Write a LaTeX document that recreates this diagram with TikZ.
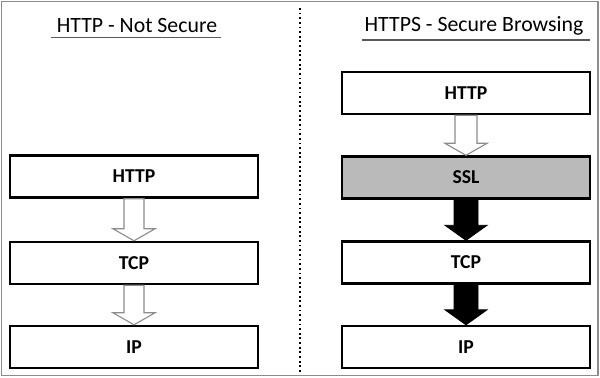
\documentclass[tikz,border=0pt]{standalone}
\usepackage{fontspec}
\setmainfont{Carlito}
\usetikzlibrary{calc}
\tikzset{
  layerbox/.style={draw, line width=1.7pt, minimum width=6.2cm, minimum height=1.05cm, font=\fontsize{14}{15}\selectfont\bfseries},
  sslbox/.style={layerbox, fill=black!27},
  heading/.style={font=\fontsize{15.5}{16}\selectfont, inner sep=0pt},
  hollowarrow/.style={draw=black!45, line width=0.8pt, fill=white},
  solidarrow/.style={draw=black, line width=0.6pt, fill=black}
}
% block arrow from the bottom of #2 to the top of #3: shaft half width, head half width, head length
\newcommand\blockarrow[6]{%
  \path[#1] ($(#2.south)+(-#4,0)$) -- ($(#3.north)+(-#4,-#6)$) -- ($(#3.north)+(-#5,-#6)$)
    -- (#3.north) -- ($(#3.north)+(#5,-#6)$) -- ($(#3.north)+(#4,-#6)$) -- ($(#2.south)+(#4,0)$) -- cycle;}
\begin{document}
\begin{tikzpicture}[x=0.025cm, y=-0.025cm]
\useasboundingbox (0,0) rectangle (600,377);
\draw[black!45, line width=0.8pt] (1.5,1.5) rectangle (598,375.5);
% split
\draw[dotted, line width=1.3pt] (300,8) -- (300,372);

% plain http
\node[heading] (ttl) at (137,26) {HTTP - Not Secure};
\draw[black!65, line width=1.2pt] ($(ttl.south west)+(-6,4)$) -- ($(ttl.south east)+(4,4)$);
\node[layerbox] (lhttp) at (134,176.5) {HTTP};
\node[layerbox] (ltcp) at (134,263) {TCP};
\node[layerbox] (lip) at (134,347) {IP};
\blockarrow{hollowarrow}{lhttp}{ltcp}{10}{21}{12}
\blockarrow{hollowarrow}{ltcp}{lip}{10}{21}{12}

% https
\node[heading] (ttr) at (474,26) {HTTPS - Secure Browsing};
\draw[black!65, line width=1.2pt] ($(ttr.south west)+(-2,4)$) -- ($(ttr.south east)+(6,4)$);
\node[layerbox] (rhttp) at (466,93) {HTTP};
\node[sslbox] (rssl) at (466,177.5) {SSL};
\node[layerbox] (rtcp) at (466,262.5) {TCP};
\node[layerbox] (rip) at (466,347) {IP};
\blockarrow{hollowarrow}{rhttp}{rssl}{11}{21}{12}
\blockarrow{solidarrow}{rssl}{rtcp}{12}{21}{15}
\blockarrow{solidarrow}{rtcp}{rip}{12}{21}{15}
\end{tikzpicture}
\end{document}
